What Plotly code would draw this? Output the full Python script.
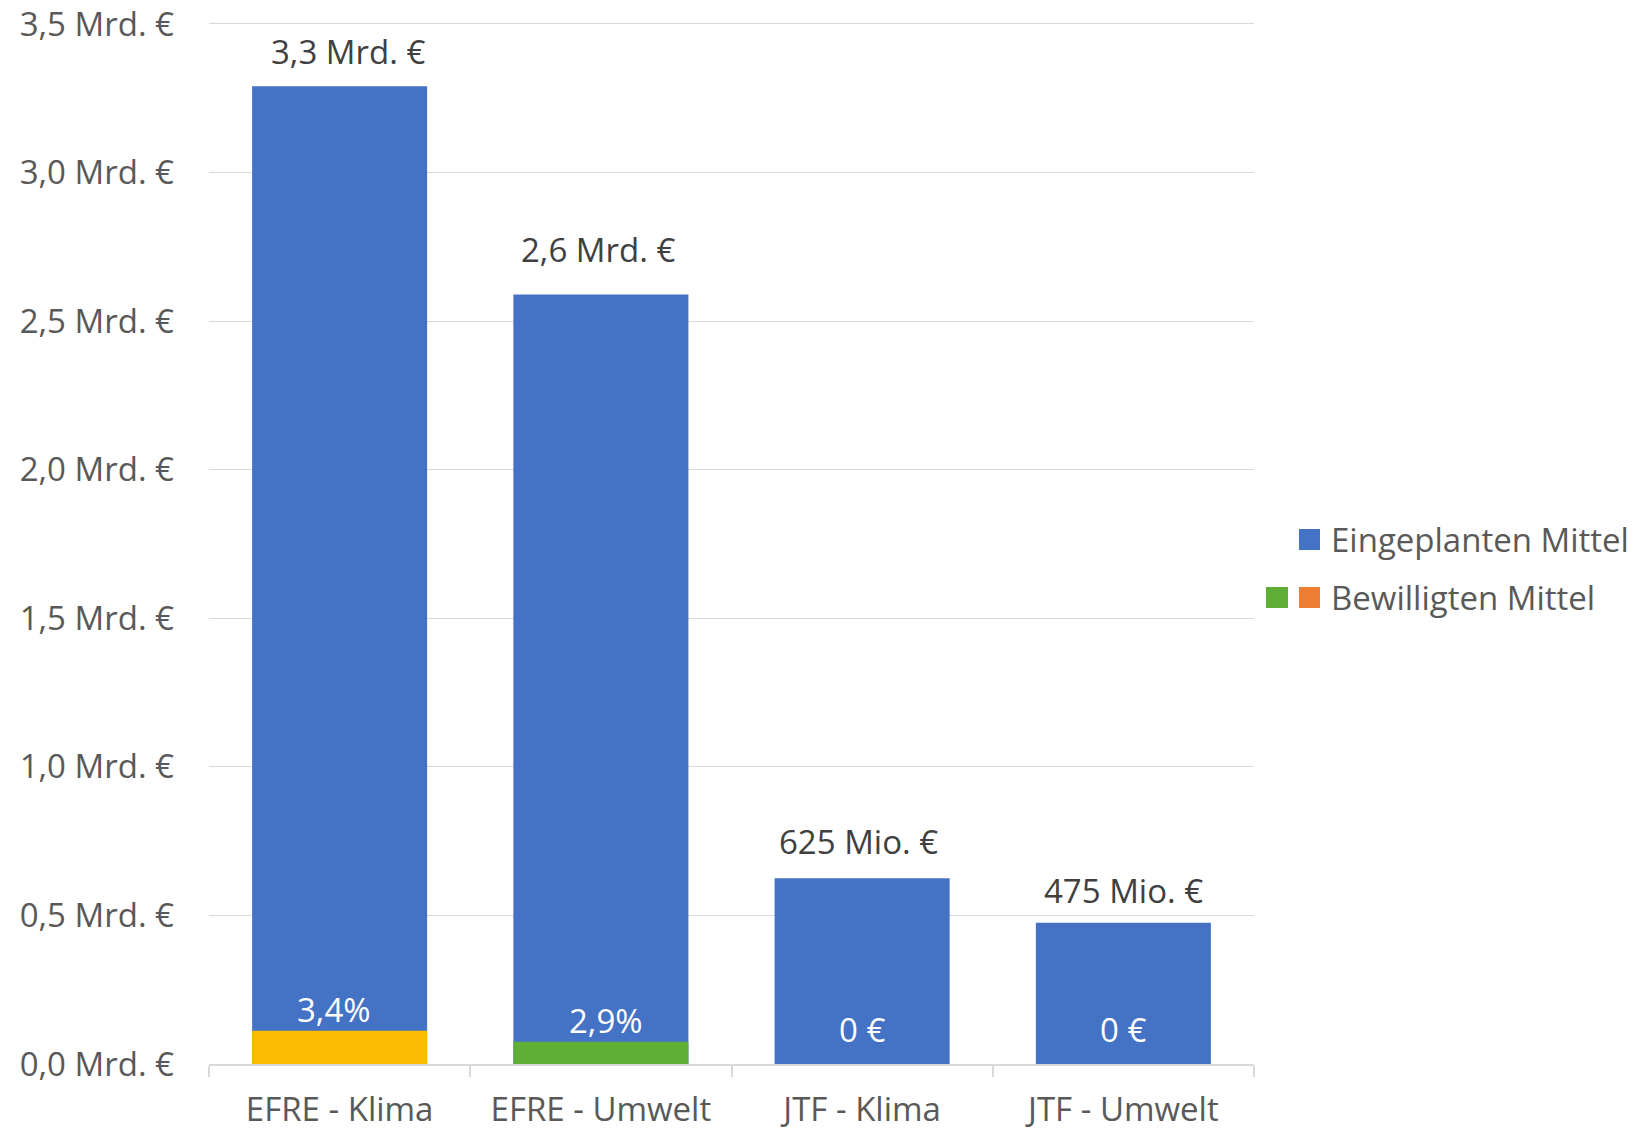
import plotly.graph_objects as go

# ---------------- data ----------------
categories = ["EFRE - Klima", "EFRE - Umwelt", "JTF - Klima", "JTF - Umwelt"]
eingeplant = [3.29, 2.59, 0.625, 0.475]          # Mrd. €
bewilligt = [0.112, 0.075, 0.0, 0.0]             # Mrd. €
eingeplant_labels = ["3,3 Mrd. €", "2,6 Mrd. €", "625 Mio. €", "475 Mio. €"]
bewilligt_labels = ["3,4%", "2,9%", "0 €", "0 €"]
y_tickvals = [0.0, 0.5, 1.0, 1.5, 2.0, 2.5, 3.0, 3.5]
y_ticktext = ["0,0 Mrd. €", "0,5 Mrd. €", "1,0 Mrd. €", "1,5 Mrd. €",
              "2,0 Mrd. €", "2,5 Mrd. €", "3,0 Mrd. €", "3,5 Mrd. €"]
legend_names = ["Eingeplanten Mittel", "Bewilligten Mittel"]

# ---------------- style ----------------
OFF = 0                      # body margin removed via post_script
W, H = 1639 - OFF, 1131 - OFF
Y_MAX = 3.51
PLOT_L, PLOT_R, PLOT_B = 209, 1254, 1064          # page pixels
PX_PER_UNIT = (1064 - 24) / 3.5
PLOT_T = PLOT_B - Y_MAX * PX_PER_UNIT
L, R = PLOT_L - OFF, W - (PLOT_R - OFF)
T, B = PLOT_T - OFF, H - (PLOT_B - OFF)
FONT = "Open Sans"
FS = 33
BLUE = "#4472C4"
BEW_COLORS = ["#FABB00", "#5FAE35", BLUE, BLUE]
ORANGE = "#ED7D31"
GREEN = "#5FAE35"
GRID = "#D9D9D9"
AXIS_TXT = "#595959"
LABEL_TXT = "#404040"
TOP_XSHIFT = [8, -3, -4, 0]
TOP_YSHIFT = [10, 20, 12, 8]
BOT_XSHIFT = [-6, 5, 0, 0]

fig = go.Figure()
fig.add_trace(go.Bar(x=categories, y=eingeplant, name=legend_names[0],
                     marker=dict(color=BLUE, line=dict(width=0)),
                     width=0.67, showlegend=False, hoverinfo="skip"))
fig.add_trace(go.Bar(x=categories, y=bewilligt, name=legend_names[1],
                     marker=dict(color=BEW_COLORS, line=dict(width=0)),
                     width=0.67, showlegend=False, hoverinfo="skip"))

annotations = []
for c, v, t, xs, ys in zip(categories, eingeplant, eingeplant_labels, TOP_XSHIFT, TOP_YSHIFT):
    annotations.append(dict(x=c, y=v, xref="x", yref="y", text=t, showarrow=False,
                            yanchor="bottom", yshift=ys, xshift=xs,
                            font=dict(family=FONT, size=FS, color=LABEL_TXT)))
for c, v, t, xs in zip(categories, bewilligt, bewilligt_labels, BOT_XSHIFT):
    annotations.append(dict(x=c, y=v, xref="x", yref="y", text=t, showarrow=False,
                            yanchor="bottom", yshift=(10 if v == 0 else -3), xshift=xs,
                            font=dict(family=FONT, size=FS, color="white")))

# custom legend (page-pixel helpers)
PW, PH = PLOT_R - PLOT_L, PLOT_B - PLOT_T
def px(xp):
    return (xp - PLOT_L) / PW
def py(yp):
    return (PLOT_B - yp) / PH

shapes = []
def square(x0, y0, x1, y1, color):
    shapes.append(dict(type="rect", xref="paper", yref="paper",
                       x0=px(x0), x1=px(x1), y0=py(y1), y1=py(y0),
                       fillcolor=color, line=dict(width=0)))
square(1299, 529, 1320, 550, BLUE)
square(1266, 587, 1288, 608, GREEN)
square(1299, 587, 1320, 608, ORANGE)
for name, yc in zip(legend_names, [539.5, 597.5]):
    annotations.append(dict(x=px(1329), y=py(yc), xref="paper", yref="paper",
                            text=name, showarrow=False, xanchor="left", yanchor="middle",
                            font=dict(family=FONT, size=FS, color=AXIS_TXT)))

fig.update_layout(
    width=W, height=H,
    margin=dict(l=L, r=R, t=T, b=B, autoexpand=False),
    paper_bgcolor="white", plot_bgcolor="white",
    barmode="overlay", bargap=0.33,
    font=dict(family=FONT, size=FS, color=AXIS_TXT),
    annotations=annotations, shapes=shapes,
    showlegend=False,
)
fig.update_xaxes(
    type="category", showgrid=False, showline=True, linecolor=GRID, linewidth=1.5,
    ticks="outside", tickson="boundaries", ticklen=11, tickcolor=GRID, tickwidth=1.5,
    ticklabelstandoff=16, automargin=False, ticklabeloverflow="allow",
    tickfont=dict(family=FONT, size=FS, color=AXIS_TXT),
)
fig.update_yaxes(
    range=[0, Y_MAX], tickvals=y_tickvals, ticktext=y_ticktext,
    showgrid=True, gridcolor=GRID, gridwidth=1.3, zeroline=False, showline=False,
    ticks="", ticklabelstandoff=34, automargin=False, ticklabeloverflow="allow",
    tickfont=dict(family=FONT, size=FS, color=AXIS_TXT),
)

fig.write_html("out.html", config={"displayModeBar": False},
               post_script="document.body.style.margin='0';document.body.style.overflow='hidden';")
